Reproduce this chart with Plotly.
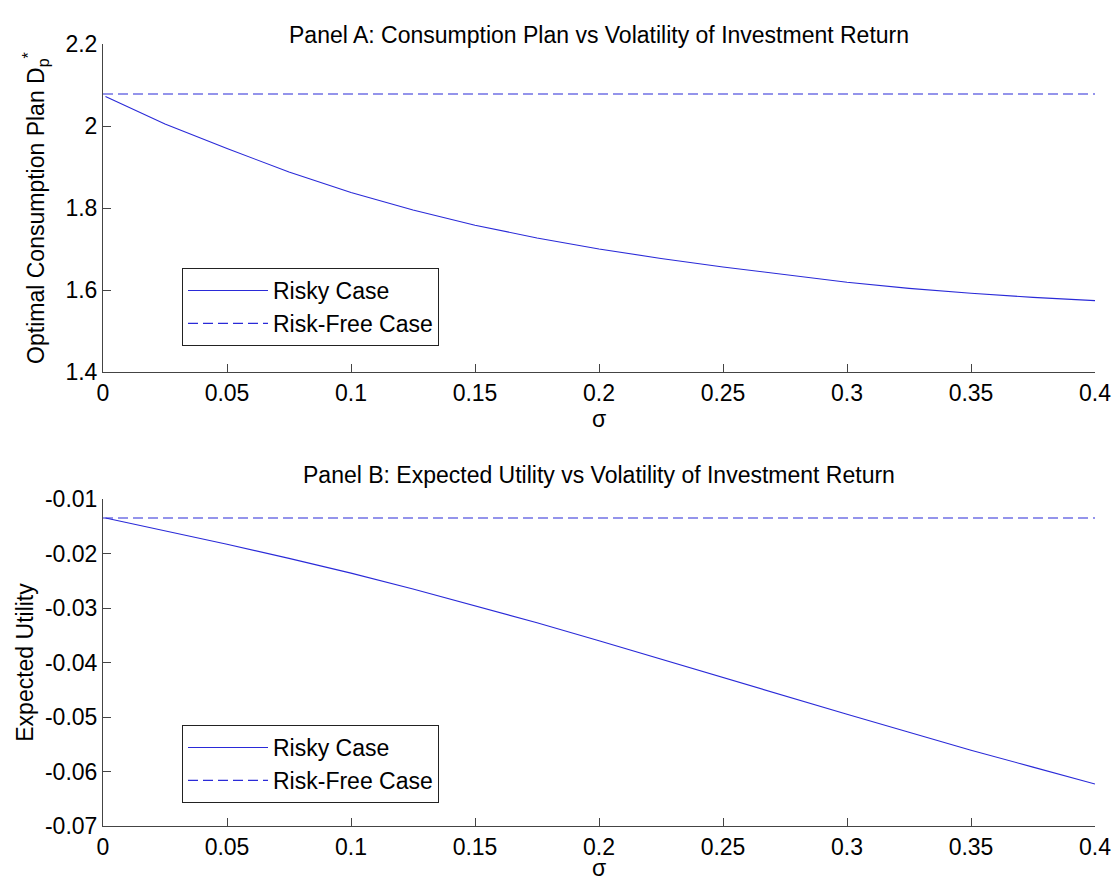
import plotly.graph_objects as go

sigma = [0.001, 0.025, 0.05, 0.075, 0.1, 0.125, 0.15, 0.175, 0.2, 0.225, 0.25, 0.275, 0.3, 0.325, 0.35, 0.375, 0.4]
consumption_risky = [2.072, 2.005, 1.945, 1.888, 1.838, 1.795, 1.758, 1.727, 1.700, 1.677, 1.656, 1.638, 1.619, 1.604, 1.592, 1.582, 1.574]
consumption_riskfree = 2.078
utility_risky = [-0.0135, -0.0158, -0.0183, -0.0209, -0.0236, -0.0265, -0.0296, -0.0327, -0.0360, -0.0394, -0.0428, -0.0462, -0.0495, -0.0528, -0.0561, -0.0592, -0.0623]
utility_riskfree = -0.0135

x_ticks = [0, 0.05, 0.1, 0.15, 0.2, 0.25, 0.3, 0.35, 0.4]
x_ticklabels = ["0", "0.05", "0.1", "0.15", "0.2", "0.25", "0.3", "0.35", "0.4"]
yA_ticks = [1.4, 1.6, 1.8, 2.0, 2.2]
yA_ticklabels = ["1.4", "1.6", "1.8", "2", "2.2"]
yB_ticks = [-0.07, -0.06, -0.05, -0.04, -0.03, -0.02, -0.01]
yB_ticklabels = ["-0.07", "-0.06", "-0.05", "-0.04", "-0.03", "-0.02", "-0.01"]

W, H = 1117, 882
line_color = "#2a2ad8"
font = "Liberation Sans, Arial, sans-serif"
FS = 23
DASH = "10px,5px"


def px_x(p):
    return p / W


def px_y(p):
    return 1 - p / H


fig = go.Figure()

fig.add_trace(go.Scatter(x=sigma, y=consumption_risky, mode="lines", name="Risky Case",
                         line=dict(color=line_color, width=1.1), xaxis="x", yaxis="y", legend="legend"))
fig.add_trace(go.Scatter(x=[0, 0.4], y=[consumption_riskfree, consumption_riskfree], mode="lines",
                         name="Risk-Free Case", line=dict(color=line_color, width=1.1, dash=DASH),
                         xaxis="x", yaxis="y", legend="legend"))
fig.add_trace(go.Scatter(x=sigma, y=utility_risky, mode="lines", name="Risky Case",
                         line=dict(color=line_color, width=1.1), xaxis="x2", yaxis="y2", legend="legend2"))
fig.add_trace(go.Scatter(x=[0, 0.4], y=[utility_riskfree, utility_riskfree], mode="lines",
                         name="Risk-Free Case", line=dict(color=line_color, width=1.1, dash=DASH),
                         xaxis="x2", yaxis="y2", legend="legend2"))

xd = [px_x(103), px_x(1095)]
yA = [px_y(372), px_y(44)]
yB = [px_y(826), px_y(499)]
xmid = (xd[0] + xd[1]) / 2

axis_common = dict(showline=True, linecolor="#444", linewidth=1, ticks="inside", ticklen=8,
                   tickcolor="#444", showgrid=False, zeroline=False, mirror=False, automargin=False,
                   tickfont=dict(size=FS, color="black", family=font))

legend_common = dict(bgcolor="white", bordercolor="#222", borderwidth=1,
                     font=dict(size=FS, color="black", family=font),
                     xanchor="left", yanchor="top", tracegroupgap=0, itemwidth=80)

fig.update_layout(
    width=W, height=H,
    margin=dict(l=0, r=0, t=0, b=0),
    paper_bgcolor="white", plot_bgcolor="white",
    font=dict(family=font, color="black", size=FS),
    xaxis=dict(domain=xd, anchor="y", range=[0, 0.4], tickvals=x_ticks, ticktext=x_ticklabels,
               title=dict(text="σ", font=dict(size=FS), standoff=4), **axis_common),
    yaxis=dict(domain=yA, anchor="x", range=[1.4, 2.2], tickvals=yA_ticks, ticktext=yA_ticklabels,
               title=dict(text="Optimal Consumption Plan D<sub>p</sub><sup>*</sup>", font=dict(size=FS), standoff=14),
               **axis_common),
    xaxis2=dict(domain=xd, anchor="y2", range=[0, 0.4], tickvals=x_ticks, ticktext=x_ticklabels,
                **axis_common),
    yaxis2=dict(domain=yB, anchor="x2", range=[-0.07, -0.01], tickvals=yB_ticks, ticktext=yB_ticklabels,
                title=dict(text="Expected Utility", font=dict(size=FS), standoff=4), **axis_common),
    legend=dict(x=px_x(182), y=px_y(268), **legend_common),
    legend2=dict(x=px_x(182), y=px_y(725), **legend_common),
    annotations=[
        dict(text="Panel A: Consumption Plan vs Volatility of Investment Return", x=xmid,
             y=px_y(20), xref="paper", yref="paper", showarrow=False, font=dict(size=FS, color="black")),
        dict(text="Panel B: Expected Utility vs Volatility of Investment Return", x=xmid,
             y=px_y(475), xref="paper", yref="paper", showarrow=False, font=dict(size=FS, color="black")),
        dict(text="σ", x=xmid, y=0, xref="paper", yref="paper", xanchor="center", yanchor="bottom",
             showarrow=False, borderpad=0, font=dict(size=FS, color="black")),
    ],
    showlegend=True,
)

fig.write_html("out.html", config={"displayModeBar": False},
               post_script="document.body.style.margin='0';")
